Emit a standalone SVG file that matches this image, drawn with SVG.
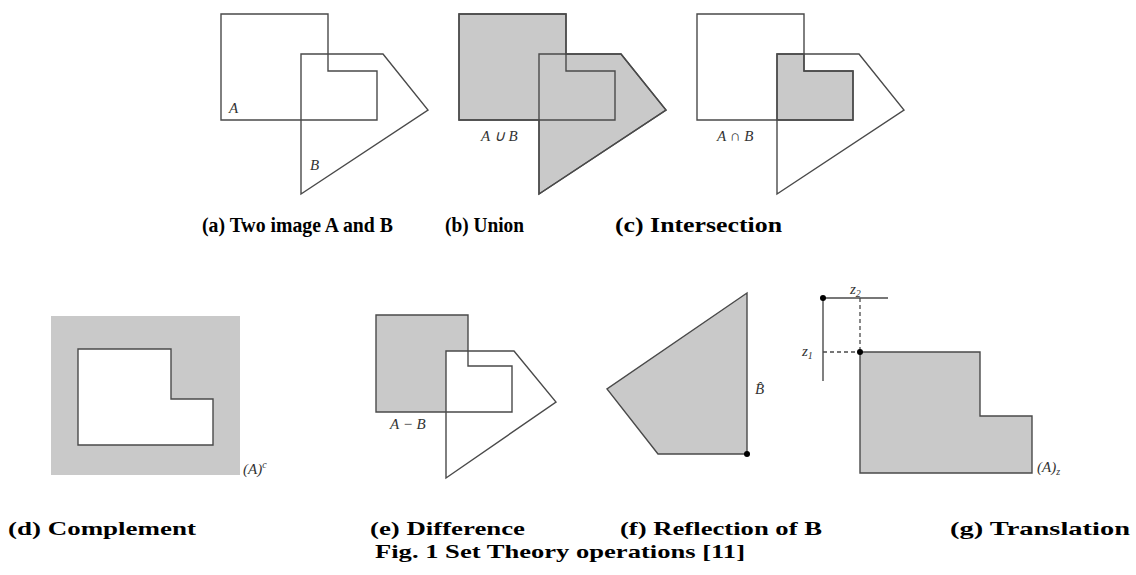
<svg xmlns="http://www.w3.org/2000/svg" width="1136" height="575" viewBox="0 0 1136 575">
<style>
.ln{fill:none;stroke:#4a4a4a;stroke-width:1.4;stroke-linejoin:miter}
.sh{fill:#c9c9c9;stroke:#4a4a4a;stroke-width:1.4}
.nf{fill:#c9c9c9;stroke:none}
.wf{fill:#ffffff;stroke:#4a4a4a;stroke-width:1.4}
.lb{font-family:"Liberation Serif","Times New Roman",Tinos,serif;font-style:italic;font-size:15px;fill:#333}
.cap{font-family:"Liberation Serif","Times New Roman",Tinos,serif;font-weight:bold;font-size:21px;fill:#000}
.cap2{font-family:"Liberation Serif","Times New Roman",Tinos,serif;font-weight:bold;font-size:19.5px;fill:#000}
.dash{fill:none;stroke:#4a4a4a;stroke-width:1.3;stroke-dasharray:4,3}
</style>
<rect width="1136" height="575" fill="#fff"/>
<g id="fig-a">
<path class="ln" d="M221,14 H328 V71 H377 V120 H221 Z"/>
<path class="ln" d="M301,54 H383 L428,110 L301,194 Z"/>
<text class="lb" x="229" y="113">A</text>
<text class="lb" x="310" y="170">B</text>
</g>
<g id="fig-b">
<path class="sh" d="M459,14 H566 V54 H621 L666,110 L539,194 V120 H459 Z"/>
<path class="ln" d="M459,14 H566 V71 H615 V120 H459 Z"/>
<path class="ln" d="M539,54 H621 L666,110 L539,194 Z"/>
<text class="lb" x="481" y="141">A ∪ B</text>
</g>
<g id="fig-c">
<path class="sh" d="M777,54 H804 V71 H853 V120 H777 Z"/>
<path class="ln" d="M697,14 H804 V71 H853 V120 H697 Z"/>
<path class="ln" d="M777,54 H859 L904,110 L777,194 Z"/>
<text class="lb" x="717" y="141">A ∩ B</text>
</g>
<g id="fig-d">
<rect class="nf" x="51" y="316" width="189" height="159"/>
<path class="wf" d="M78,349 H171 V399 H213 V445 H78 Z"/>
<text class="lb" x="243" y="474">(A)<tspan font-size="10" dy="-6">c</tspan></text>
</g>
<g id="fig-e">
<path class="nf" d="M376,315 H468 V351 H446 V412 H376 Z"/>
<path class="ln" d="M376,315 H468 V366 H512 V412 H376 Z"/>
<path class="ln" d="M446,351 H514 L556,402 L446,478 Z"/>
<text class="lb" x="390" y="429">A − B</text>
</g>
<g id="fig-f">
<path class="sh" d="M747,293 L607,389 L658,454 H747 Z"/>
<circle cx="747" cy="454" r="3" fill="#000"/>
<text class="lb" x="755" y="394">B̂</text>
</g>
<g id="fig-g">
<path class="sh" d="M860,352 H980 V416 H1032 V473 H860 Z"/>
<line class="ln" x1="823" y1="298" x2="888" y2="298"/>
<line class="ln" x1="823" y1="298" x2="823" y2="381"/>
<line class="dash" x1="860" y1="298" x2="860" y2="352"/>
<line class="dash" x1="823" y1="352" x2="860" y2="352"/>
<circle cx="823" cy="298" r="3" fill="#000"/>
<circle cx="860" cy="352" r="3" fill="#000"/>
<text class="lb" x="850" y="294">z<tspan font-size="10" dy="3">2</tspan></text>
<text class="lb" x="802" y="356">z<tspan font-size="10" dy="3">1</tspan></text>
<text class="lb" x="1037" y="472">(A)<tspan font-size="10" dy="3">z</tspan></text>
</g>
<g id="captions">
<text class="cap" x="202" y="232" textLength="191" lengthAdjust="spacingAndGlyphs">(a) Two image A and B</text>
<text class="cap" x="445" y="232" textLength="79" lengthAdjust="spacingAndGlyphs">(b) Union</text>
<text class="cap" x="615" y="232" textLength="167" lengthAdjust="spacingAndGlyphs">(c) Intersection</text>
<text class="cap2" x="8" y="535" textLength="188" lengthAdjust="spacingAndGlyphs">(d) Complement</text>
<text class="cap2" x="370" y="535" textLength="155" lengthAdjust="spacingAndGlyphs">(e) Difference</text>
<text class="cap2" x="620" y="535" textLength="202" lengthAdjust="spacingAndGlyphs">(f) Reflection of B</text>
<text class="cap2" x="950" y="535" textLength="180" lengthAdjust="spacingAndGlyphs">(g) Translation</text>
<text class="cap2" x="375" y="558" textLength="370" lengthAdjust="spacingAndGlyphs">Fig. 1 Set Theory operations [11]</text>
</g>
</svg>
